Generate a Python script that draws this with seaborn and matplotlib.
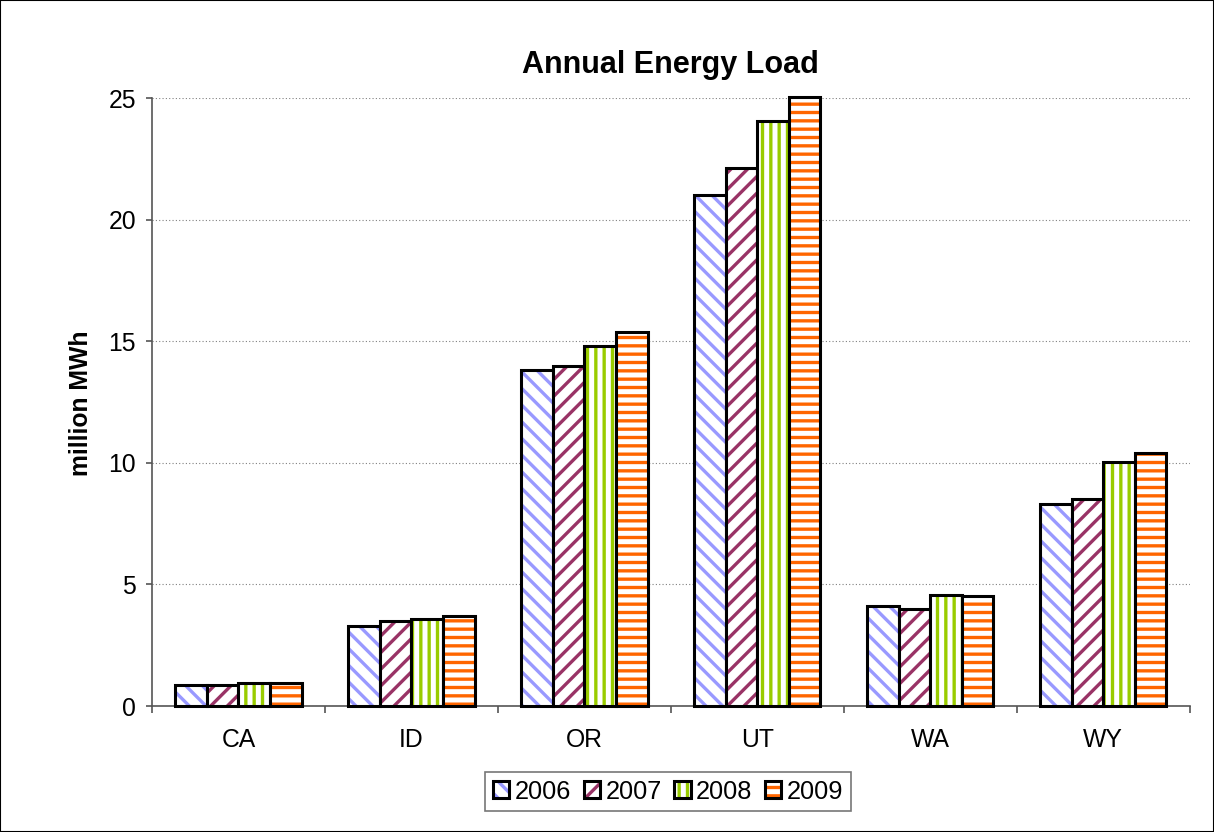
import matplotlib
matplotlib.use("Agg")
import matplotlib.pyplot as plt
import matplotlib.patches as mpatches
import matplotlib.colors as mcolors
import seaborn as sns
import pandas as pd
import numpy as np

states = ["CA", "ID", "OR", "UT", "WA", "WY"]
years = ["2006", "2007", "2008", "2009"]
v2006 = [0.87, 3.31, 13.82, 21.02, 4.11, 8.30]
v2007 = [0.88, 3.48, 13.98, 22.14, 3.99, 8.50]
v2008 = [0.95, 3.60, 14.81, 24.06, 4.57, 10.02]
v2009 = [0.93, 3.70, 15.40, 25.06, 4.52, 10.41]
yticks = [0, 5, 10, 15, 20, 25]

hatch_colors = ["#9999FF", "#993366", "#99CC00", "#FF6600"]
hatches = ["\\\\", "//", "||", "--"]

rows = []
for y, vals in zip(years, [v2006, v2007, v2008, v2009]):
    for s, v in zip(states, vals):
        rows.append({"state": s, "year": y, "value": v})
df = pd.DataFrame(rows)

sns.set_style("white")
plt.rcParams["font.family"] = ["Liberation Sans", "DejaVu Sans"]
plt.rcParams["hatch.linewidth"] = 2.4
plt.rcParams["text.color"] = "black"
plt.rcParams["xtick.color"] = "black"
plt.rcParams["ytick.color"] = "black"
plt.rcParams["axes.labelcolor"] = "black"

fig = plt.figure(figsize=(12.14, 8.32), dpi=100)
ax = fig.add_axes([0.1252, 0.1514, 0.8548, 0.7304])

sns.barplot(data=df, x="state", y="value", hue="year", order=states,
            hue_order=years, palette=["white"] * 4, width=0.73,
            edgecolor="black", linewidth=2.2, legend=False, ax=ax, zorder=3)

for cont, hc, h in zip(ax.containers, hatch_colors, hatches):
    for p in cont:
        p.set_hatch(h)
        p.set_facecolor("white")
        p.set_edgecolor("black")
        p._hatch_color = mcolors.to_rgba(hc)
        p.set_clip_on(False)
        p.stale = True

ax.set_ylim(0, 25)
ax.set_xlim(-0.5, 5.5)
ax.set_yticks(yticks)
ax.set_xticks(range(len(states)))
ax.set_xticklabels(states)
ax.set_xticks(np.arange(-0.5, 6, 1), minor=True)
ax.tick_params(axis="x", which="major", length=0, pad=16, labelsize=17.8)
ax.tick_params(axis="x", which="minor", length=5, width=1.2, color="#555555", direction="out", bottom=True)
ax.tick_params(axis="y", length=4.5, width=1.2, color="#555555", direction="out", left=True, labelsize=17.8, pad=7)

ax.yaxis.grid(True, linestyle=(0, (1, 2)), color="#808080", linewidth=0.8, zorder=0)
ax.set_axisbelow(True)
for sp in ["top", "right"]:
    ax.spines[sp].set_visible(False)
for sp in ["left", "bottom"]:
    ax.spines[sp].set_color("#555555")
    ax.spines[sp].set_linewidth(1.2)

ax.set_xlabel("")
ax.set_ylabel("million MWh", fontsize=17.8, fontweight="bold")
ax.yaxis.set_label_coords(93 / 1214, 1 - 403 / 832, transform=fig.transFigure)
ax.set_title("Annual Energy Load", fontsize=22, fontweight="bold", pad=18)

handles = []
for hc, h, y in zip(hatch_colors, hatches, years):
    hp = mpatches.Patch(facecolor="white", edgecolor="black", hatch=h, linewidth=2.2, label=y)
    hp._hatch_color = mcolors.to_rgba(hc)
    handles.append(hp)
leg = fig.legend(handles=handles, loc="upper center", bbox_to_anchor=(668 / 1214, 1 - 772 / 832),
                 bbox_transform=fig.transFigure,
                 ncol=4, fontsize=18.3, frameon=True, fancybox=False, handlelength=0.65,
                 handleheight=0.65, handletextpad=0.2, columnspacing=0.5, borderpad=0.3,
                 borderaxespad=0)
leg.get_frame().set_edgecolor("#555555")
leg.get_frame().set_linewidth(1.2)

fig.patches.append(mpatches.Rectangle((0, 0), 1, 1, transform=fig.transFigure,
                                      fill=False, edgecolor="black", linewidth=1.5))

fig.savefig("out.png", dpi=100)
